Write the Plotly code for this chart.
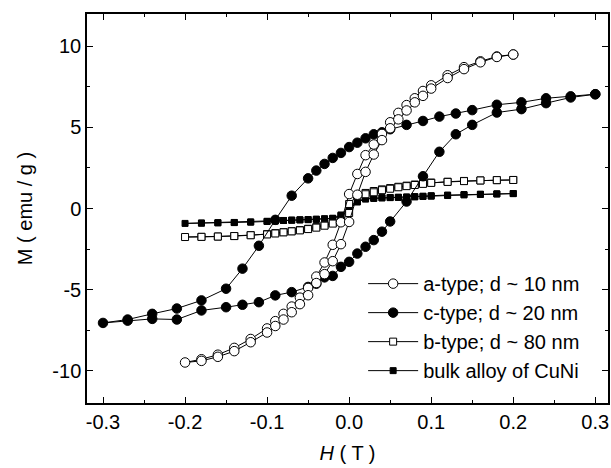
import plotly.graph_objects as go

# ---------------- data ----------------
H_desc = [0.20, 0.18, 0.16, 0.14, 0.12, 0.10, 0.09, 0.08, 0.07, 0.06, 0.05, 0.04, 0.03, 0.02, 0.01, 0.00,
          -0.01, -0.02, -0.03, -0.04, -0.05, -0.06, -0.07, -0.08, -0.09, -0.10, -0.12, -0.14, -0.16, -0.18, -0.20]
H_asc = [-0.20, -0.18, -0.16, -0.14, -0.12, -0.10, -0.09, -0.08, -0.07, -0.06, -0.05, -0.04, -0.03, -0.02, -0.01, 0.00,
         0.01, 0.02, 0.03, 0.04, 0.05, 0.06, 0.07, 0.08, 0.09, 0.10, 0.12, 0.14, 0.16, 0.18, 0.20]

# a-type; d ~ 10 nm (open circles)
M_a_desc = [9.5, 9.38, 9.08, 8.72, 8.22, 7.6, 7.25, 6.8, 6.38, 5.9, 5.32, 4.6, 3.95, 3.29, 2.13, 0.89,
            -0.85, -2.24, -3.33, -4.2, -4.9, -5.5, -6.05, -6.5, -6.95, -7.4, -8.05, -8.6, -9.02, -9.3, -9.5]
M_a_asc = [-9.55, -9.4, -9.15, -8.8, -8.25, -7.65, -7.25, -6.85, -6.4, -5.9, -5.35, -4.6, -4.05, -3.25, -2.2, -0.83,
           0.85, 2.26, 3.33, 4.22, 4.95, 5.5, 6.05, 6.55, 6.95, 7.4, 8.05, 8.6, 9.02, 9.35, 9.5]

# c-type; d ~ 20 nm (filled circles)
H_c_desc = [0.30, 0.27, 0.24, 0.21, 0.18, 0.15, 0.13, 0.11, 0.09, 0.07, 0.05, 0.04, 0.03, 0.02, 0.01, 0.00,
            -0.01, -0.02, -0.03, -0.04, -0.05, -0.07, -0.09, -0.11, -0.13, -0.15, -0.18, -0.21, -0.24, -0.27, -0.30]
M_c_desc = [7.05, 6.92, 6.8, 6.55, 6.4, 6.07, 5.86, 5.67, 5.4, 5.16, 4.89, 4.7, 4.58, 4.33, 4.06, 3.79,
            3.43, 3.12, 2.75, 2.34, 1.86, 0.79, -0.7, -2.3, -3.71, -4.95, -5.67, -6.17, -6.5, -6.85, -7.06]
H_c_asc = [-0.30, -0.27, -0.24, -0.21, -0.18, -0.15, -0.13, -0.11, -0.09, -0.07, -0.05, -0.04, -0.03, -0.02, -0.01, 0.00,
           0.01, 0.02, 0.03, 0.04, 0.05, 0.07, 0.09, 0.11, 0.13, 0.15, 0.18, 0.21, 0.24, 0.27, 0.30]
M_c_asc = [-7.06, -6.92, -6.81, -6.85, -6.29, -6.09, -5.94, -5.78, -5.36, -5.16, -4.84, -4.64, -4.25, -4.16, -3.6, -3.29,
           -2.78, -2.36, -1.95, -1.43, -0.8, 0.43, 1.99, 3.5, 4.58, 5.16, 5.92, 6.13, 6.5, 6.85, 7.05]

# b-type; d ~ 80 nm (open squares)
M_b_desc = [1.76, 1.75, 1.73, 1.7, 1.65, 1.6, 1.55, 1.48, 1.41, 1.34, 1.26, 1.18, 1.08, 0.96, 0.83, 0.28,
            -0.78, -0.9, -1.03, -1.15, -1.25, -1.33, -1.4, -1.46, -1.52, -1.58, -1.64, -1.7, -1.73, -1.75, -1.76]
M_b_asc = [-1.76, -1.75, -1.73, -1.7, -1.65, -1.6, -1.54, -1.47, -1.41, -1.35, -1.27, -1.18, -1.06, -0.93, -0.81, -0.28,
           0.76, 0.88, 1.0, 1.13, 1.22, 1.31, 1.38, 1.45, 1.52, 1.58, 1.64, 1.69, 1.73, 1.75, 1.76]

# bulk alloy of CuNi (filled squares)
M_k_desc = [0.92, 0.9, 0.87, 0.84, 0.8, 0.76, 0.74, 0.72, 0.7, 0.69, 0.68, 0.67, 0.65, 0.62, 0.45, 0.08,
            -0.4, -0.6, -0.63, -0.66, -0.68, -0.7, -0.72, -0.74, -0.77, -0.8, -0.84, -0.87, -0.88, -0.9, -0.92]
M_k_asc = [-0.92, -0.9, -0.88, -0.86, -0.83, -0.79, -0.77, -0.74, -0.72, -0.7, -0.69, -0.67, -0.65, -0.62, -0.45, -0.06,
           0.4, 0.58, 0.62, 0.65, 0.67, 0.69, 0.71, 0.73, 0.76, 0.79, 0.83, 0.86, 0.88, 0.9, 0.92]

labels = ["a-type; d ~ 10 nm", "c-type; d ~ 20 nm", "b-type; d ~ 80 nm", "bulk alloy of CuNi"]

x_tickvals = [-0.3, -0.2, -0.1, 0.0, 0.1, 0.2, 0.3]
x_ticktext = ["-0.3", "-0.2", "-0.1", "0.0", "0.1", "0.2", "0.3"]
y_tickvals = [-10, -5, 0, 5, 10]
y_ticktext = ["-10", "-5", "0", "5", "10"]

FONT = "Liberation Sans, Arial, sans-serif"
FS = 20

fig = go.Figure()

def loop(hd, md, ha, ma, name, symbol, fill, size, rank):
    fig.add_trace(go.Scatter(
        x=hd + ha[1:], y=md + ma[1:], name=name, mode="lines+markers",
        line=dict(color="black", width=1),
        marker=dict(symbol=symbol, size=size, color=fill, line=dict(color="black", width=1)),
        legendrank=rank))

loop(H_desc, M_k_desc, H_asc, M_k_asc, labels[3], "square", "black", 6, 4)
loop(H_desc, M_b_desc, H_asc, M_b_asc, labels[2], "square", "white", 7, 3)
loop(H_c_desc, M_c_desc, H_c_asc, M_c_asc, labels[1], "circle", "black", 9.5, 2)
loop(H_desc, M_a_desc, H_asc, M_a_asc, labels[0], "circle", "white", 9.5, 1)

axis_common = dict(showgrid=False, zeroline=False, showline=True, linecolor="black", linewidth=1.5,
                   mirror="ticks", ticks="inside", ticklen=6, tickwidth=1.2, tickcolor="black",
                   tickfont=dict(family=FONT, size=FS, color="black"))

fig.update_xaxes(range=[-0.3195, 0.3155], tickvals=x_tickvals, ticktext=x_ticktext,
                 minor=dict(ticks="inside", ticklen=3, dtick=0.05, tick0=0, tickcolor="black"),
                 title=dict(text="<i>H</i> ( T )", font=dict(family=FONT, size=FS, color="black"), standoff=14),
                 **axis_common)
fig.update_yaxes(range=[-12, 12], tickvals=y_tickvals, ticktext=y_ticktext,
                 minor=dict(ticks="inside", ticklen=3, dtick=2.5, tick0=0, tickcolor="black"),
                 title=dict(text="M ( emu / g )", font=dict(family=FONT, size=FS, color="black"), standoff=14),
                 **axis_common)

fig.update_layout(
    width=611, height=468,
    margin=dict(l=87, r=3, t=14, b=65, autoexpand=False),
    paper_bgcolor="white", plot_bgcolor="white",
    font=dict(family=FONT, color="black"),
    legend=dict(x=0.53, y=0.357, xanchor="left", yanchor="top", bgcolor="rgba(0,0,0,0)",
                font=dict(family=FONT, size=FS, color="black"), itemwidth=50,
                tracegroupgap=0),
)

fig.write_html("out.html", config={"displayModeBar": False},
               post_script="document.body.style.margin='0px';")
